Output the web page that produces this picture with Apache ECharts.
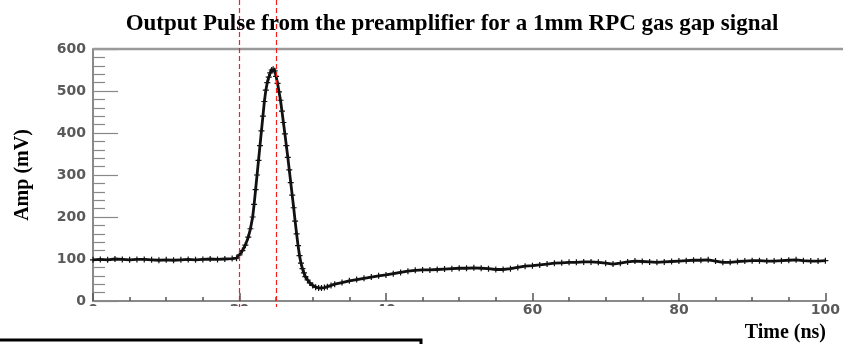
<!DOCTYPE html>
<html>
<head>
<meta charset="utf-8">
<script src="https://cdn.jsdelivr.net/npm/echarts@6/dist/echarts.min.js"></script>
<style>
html,body{margin:0;padding:0;background:#fff;}
#c{width:843px;height:344px;}
</style>
</head>
<body>
<div id="c"></div>
<script>
const titleText = 'Output Pulse from the preamplifier for a 1mm RPC gas gap signal';
const yName = 'Amp (mV)';
const xName = 'Time (ns)';
const markerTimes = [20, 25];

const time = [
 0,1,2,3,4,5,6,7,8,9,10,11,12,13,14,15,16,17,18,19,19.6,
 20.0,20.4,20.8,21.2,21.5,21.8,22.0,22.2,22.4,22.6,22.8,23.0,23.2,23.4,23.6,23.8,24.0,24.2,24.4,24.6,
 24.8,25.0,25.2,25.4,25.6,25.8,26.0,26.2,26.4,26.6,26.8,27.0,27.2,27.4,27.6,27.8,28.0,28.2,28.4,28.6,28.8,29.0,29.3,29.6,30.0,30.4,30.8,31.2,31.6,32.0,32.5,33.0,
 34,35,36,37,38,39,40,41,42,43,44,45,46,47,48,49,50,51,52,53,54,55,56,57,58,59,60,
 61,62,63,64,65,66,67,68,69,70,71,72,73,74,75,76,77,78,79,80,
 81,82,83,84,85,86,87,88,89,90,91,92,93,94,95,96,97,98,99,100
];
const amp = [
 98,99,98,100,99,98,99,99,98,97,98,97,98,99,98,99,100,99,100,101,102,
 110,120,133,152,172,200,230,265,300,335,370,405,440,475,502,520,533,543,550,552,
 548,535,518,498,478,452,425,398,370,342,312,282,252,222,190,160,132,108,90,77,67,58,50,43,37,33,31,31,32,34,37,40,
 44,48,51,54,57,60,62,65,68,71,73,74,74,75,76,77,78,78,79,78,77,75,75,77,80,83,84,
 86,88,90,91,92,92,93,93,92,90,88,90,93,95,94,93,92,93,94,95,
 96,97,97,98,95,92,92,94,95,96,96,95,95,96,97,98,96,95,95,96
];

const chart = echarts.init(document.getElementById('c'), null, {renderer:'canvas'});
const labelFont = {fontFamily:'DejaVu Sans, Verdana, sans-serif', fontWeight:'bold', fontSize:14, color:'#5a5a5a'};
const serif = 'Liberation Serif, Times New Roman, serif';

chart.setOption({
  animation:false,
  backgroundColor:'#fff',
  grid:{left:93, right:12, top:49, bottom:43, containLabel:false},
  xAxis:{
    type:'value', min:0, max:100, interval:20,
    axisLine:{show:true, lineStyle:{color:'#8a8a8a', width:2}},
    axisTick:{show:true, inside:true, length:8, lineStyle:{color:'#555', width:1.5}},
    minorTick:{show:true, splitNumber:4, length:4, lineStyle:{color:'#555', width:1.5}},
    splitLine:{show:false},
    axisLabel:Object.assign({margin:2}, labelFont)
  },
  yAxis:{
    type:'value', min:0, max:600, interval:100,
    axisLine:{show:true, lineStyle:{color:'#8a8a8a', width:2}},
    axisTick:{show:true, inside:true, length:25, lineStyle:{color:'#888', width:1.2}},
    minorTick:{show:true, splitNumber:5, length:12, lineStyle:{color:'#888', width:1.2}},
    splitLine:{show:false},
    axisLabel:Object.assign({margin:7}, labelFont),
    name:yName, nameLocation:'middle', nameGap:60, nameRotate:90,
    nameTextStyle:{fontFamily:serif, fontWeight:'bold', fontSize:20, color:'#000'}
  },
  series:[{
    type:'line',
    data:time.map((t,i)=>[t, amp[i]]),
    lineStyle:{color:'#111', width:2.8},
    symbol:'path://M4,0H6V4H10V6H6V10H4V6H0V4H4Z',
    symbolSize:6,
    itemStyle:{color:'#111'},
    showAllSymbol:true,
    z:3
  }]
});

const x0 = chart.convertToPixel({xAxisIndex:0}, 0);
const yTop = chart.convertToPixel({yAxisIndex:0}, 600);
const yBot = chart.convertToPixel({yAxisIndex:0}, 0);
const g = [];
g.push({type:'line', shape:{x1:x0, y1:yTop, x2:843, y2:yTop}, style:{stroke:'#9a9a9a', lineWidth:2.5}, z:5});
g.push({type:'rect', shape:{x:0, y:yBot+5, width:480, height:20}, style:{fill:'#fff'}, z:10});
markerTimes.forEach(t => {
  const px = Math.round(chart.convertToPixel({xAxisIndex:0}, t)) + 0.5;
  g.push({type:'line', shape:{x1:px, y1:0, x2:px, y2:yBot+6}, style:{stroke:'#ff1a1a', lineWidth:1.2, lineDash:[5,3]}, z:11});
});
g.push({type:'text', x:452, y:24, style:{text:titleText, font:'bold 23px ' + serif, fill:'#000', textAlign:'center', textVerticalAlign:'middle'}, z:12});
g.push({type:'text', x:826, y:333, style:{text:xName, font:'bold 20px ' + serif, fill:'#000', textAlign:'right', textVerticalAlign:'middle'}, z:12});
g.push({type:'polyline', shape:{points:[[0,340],[421,340],[421,344]]}, style:{stroke:'#000', lineWidth:3, fill:null}, z:12});
chart.setOption({graphic:g});
</script>
</body>
</html>
